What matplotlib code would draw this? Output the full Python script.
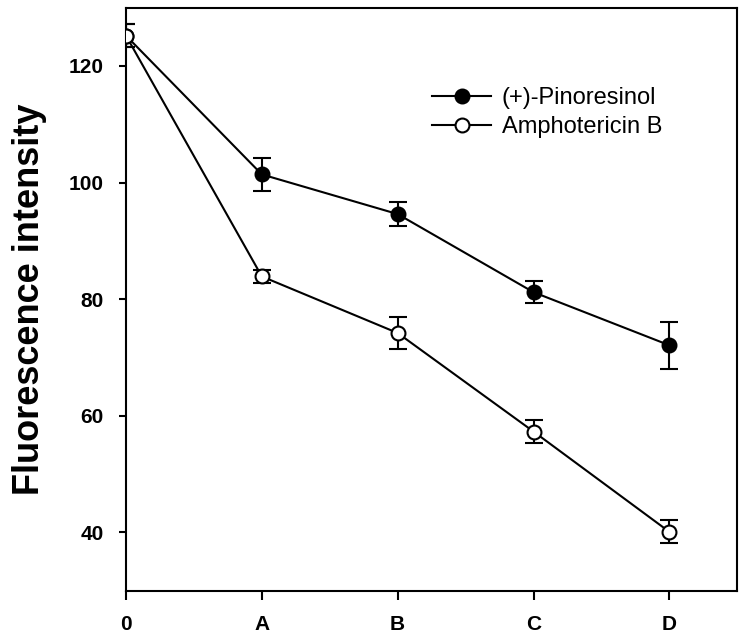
import matplotlib.pyplot as plt
import numpy as np

plt.rcParams['font.family'] = ['Liberation Sans', 'DejaVu Sans']

# time points / treatments
categories = ["0", "A", "B", "C", "D"]

pinoresinol = [125.2, 101.4, 94.6, 81.2, 72.1]
pinoresinol_err = [2.0, 2.9, 2.1, 1.9, 4.0]

amphotericin = [125.2, 83.9, 74.2, 57.3, 40.1]
amphotericin_err = [2.0, 1.1, 2.8, 1.9, 2.0]

x = np.arange(len(categories))

fig = plt.figure(figsize=(7.5, 6.4), dpi=100)
ax = fig.add_axes([0.168, 0.077, 0.815, 0.911])

ax.errorbar(x, pinoresinol, yerr=pinoresinol_err, color="black", lw=1.5,
            marker="o", ms=10, mfc="black", mec="black", mew=1.5,
            capsize=6.5, capthick=1.5, elinewidth=1.5, label="(+)-Pinoresinol",
            zorder=3)
ax.errorbar(x, amphotericin, yerr=amphotericin_err, color="black", lw=1.5,
            marker="o", ms=10, mfc="white", mec="black", mew=1.5,
            capsize=6.5, capthick=1.5, elinewidth=1.5, label="Amphotericin B",
            zorder=4)

ax.set_xlim(0, 4.5)
ax.set_ylim(30, 130)
ax.set_xticks(x)
ax.set_xticklabels(categories)
ax.set_yticks([40, 60, 80, 100, 120])
ax.tick_params(direction="out", length=6, width=1.5, labelsize=15)
ax.tick_params(axis="x", length=6.5, pad=11)
ax.tick_params(axis="y", length=5, pad=11)
for lab in ax.get_xticklabels() + ax.get_yticklabels():
    lab.set_fontweight("bold")
for sp in ax.spines.values():
    sp.set_linewidth(1.5)

ax.set_ylabel("Fluorescence intensity", fontsize=26, fontweight="bold", labelpad=16)

handles, labels = ax.get_legend_handles_labels()
handles = [h[0] for h in handles]
ax.legend(handles, labels, loc="upper left", bbox_to_anchor=(0.466, 0.9),
          frameon=False, fontsize=17, handlelength=2.5, handletextpad=0.45,
          labelspacing=0.3)

fig.savefig("out.png", dpi=100)
